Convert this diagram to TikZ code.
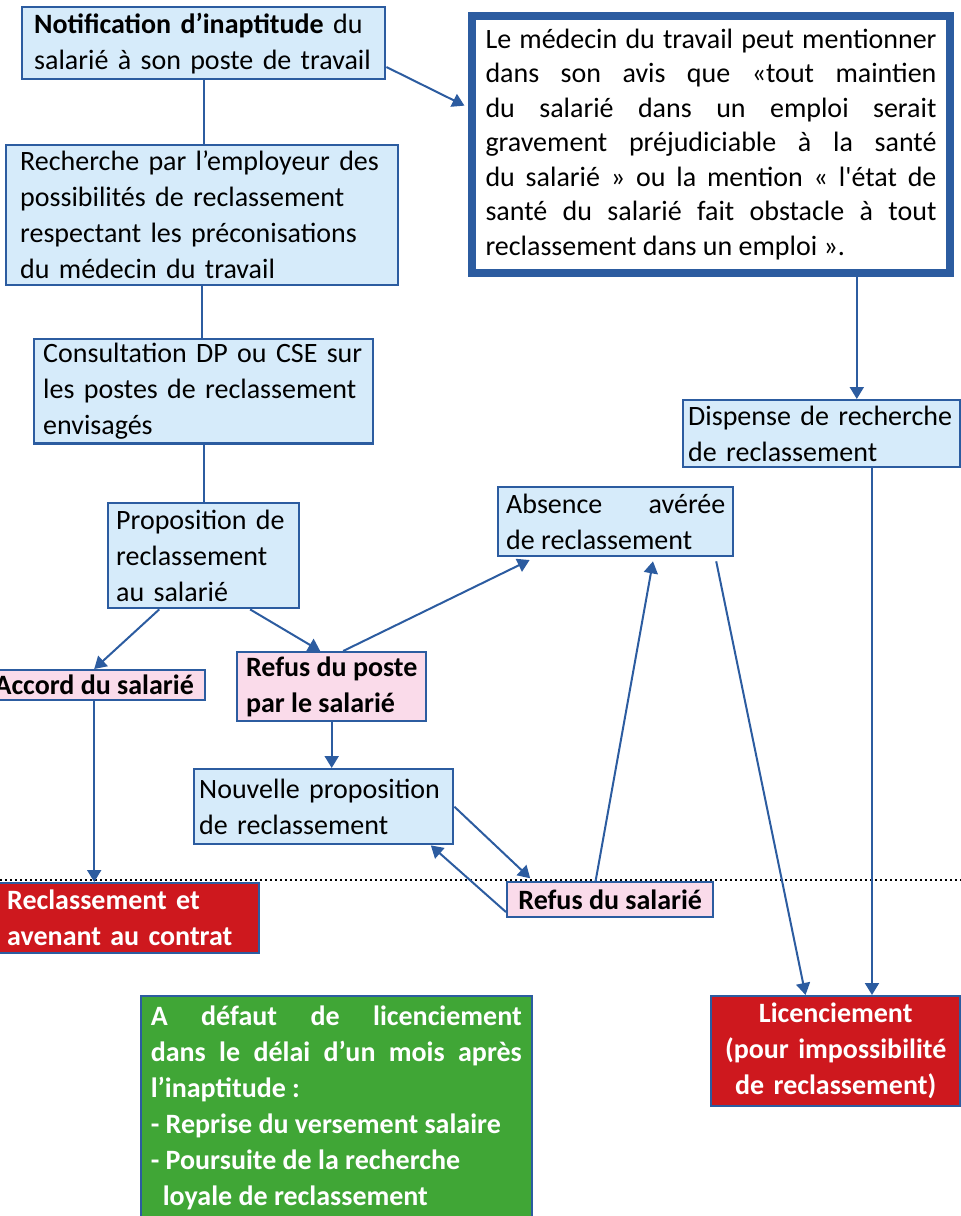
\documentclass[tikz,border=0pt]{standalone}
\usepackage{fontspec}
\setmainfont{Carlito}
\usepackage{tikz}
\usetikzlibrary{arrows.meta,calc}
\definecolor{lineblue}{RGB}{44,92,160}
\definecolor{paleblue}{RGB}{214,235,250}
\definecolor{palepink}{RGB}{250,219,234}
\definecolor{alertred}{RGB}{206,24,30}
\definecolor{okgreen}{RGB}{64,166,54}
\newcommand{\boxfont}{\fontsize{14}{18}\selectfont\hyphenpenalty=10000 \tolerance=9999 }
\newcommand{\bigboxfont}{\fontsize{14}{17.25}\selectfont\hyphenpenalty=10000 \tolerance=9999 }

\begin{document}
\begin{tikzpicture}[
    x=0.5pt, y=-0.5pt,
    box/.style={rectangle, draw=lineblue, line width=1.2pt, fill=paleblue, font=\boxfont, align=left, anchor=north west, inner ysep=2pt},
    bigbox/.style={box, fill=white, line width=4pt, align=justify, font=\bigboxfont},
    refus/.style={box, fill=palepink, font=\boxfont\bfseries, align=center},
    issue/.style={box, fill=alertred, text=white, font=\boxfont\bfseries},
    note/.style={box, fill=okgreen, text=white, line width=0.8pt, font=\boxfont\bfseries, align=justify},
    link/.style={draw=lineblue, line width=1pt},
    arrow/.style={link, -{Triangle[width=7pt,length=6pt]}},
    sep/.style={draw=black, line width=1pt, dash pattern=on 1pt off 1.5pt}
]
\useasboundingbox (0,0) rectangle (961,1216);
\clip (0,0) rectangle (961,1216);

\draw[sep] (0,880) -- (961,880);

\node[box, inner xsep=6pt, text width=169.5pt, minimum height=36pt] (notif) at (21,6) {\textbf{Notification d’inaptitude} du\\salarié à son poste de travail};
\node[box, inner xsep=7pt, text width=182pt, minimum height=70pt] (rech) at (5,144) {Recherche par l’employeur des\\possibilités de reclassement\\respectant les préconisations\\du médecin du travail};
\node[bigbox, inner xsep=6.75pt, text width=225.5pt, minimum height=128.5pt] (med) at (468,12) {Le médecin du travail peut mentionner\linebreak dans son avis que «tout maintien\linebreak du salarié dans un emploi serait\linebreak gravement préjudiciable à la santé\linebreak du salarié » ou la mention « l\textquotesingle état de\linebreak santé du salarié fait obstacle à tout\linebreak reclassement dans un emploi ».};
\node[box, inner xsep=4.5pt, text width=160.5pt, minimum height=51.5pt] (consult) at (33,338) {Consultation DP ou CSE sur\\les postes de reclassement\\envisagés};
\node[box, inner xsep=4pt, text width=87.5pt, minimum height=52.5pt] (propo) at (107,502) {Proposition de\\reclassement\\au salarié};
\node[box, inner xsep=2.5pt, text width=133.5pt, minimum height=33.5pt] (disp) at (682,399) {Dispense de recherche\\de reclassement};
\node[box, inner xsep=4pt, text width=109.5pt, minimum height=34.5pt, align=justify] (absence) at (497,486) {Absence avérée\linebreak de reclassement};
\node[refus, minimum width=111pt, minimum height=15pt, inner ysep=0.5pt] (accord) at (-18,669) {Accord du salarié};
\node[refus, inner xsep=2pt, minimum width=94.5pt, minimum height=34.5pt, align=left] (refusposte) at (236,651) {Refus du poste\\par le salarié};
\node[box, inner xsep=2.5pt, text width=124.5pt, minimum height=37.5pt] (nouvelle) at (193,768) {Nouvelle proposition\\de reclassement};
\node[refus, minimum width=103pt, minimum height=17.5pt, inner ysep=0.5pt] (refussal) at (506,881) {Refus du salarié};
\node[issue, inner xsep=12pt, text width=114pt, minimum height=35pt] (reclass) at (-18,882) {Reclassement et\\avenant au contrat};
\node[issue, inner xsep=2pt, text width=120.5pt, minimum height=55pt, align=center] (licen) at (710,995) {Licenciement\\(pour impossibilité\\de reclassement)};
\node[note, inner xsep=5pt, inner ysep=5pt, text width=185.5pt] (note) at (140,995) {A défaut de licenciement\linebreak dans le délai d’un mois après\linebreak l’inaptitude :\\- Reprise du versement salaire\\- Poursuite de la recherche\\\hspace*{6pt}loyale de reclassement};

\coordinate (medout) at ($(med.south west)!0.8!(med.south east)$);
\coordinate (dispout) at ($(disp.south west)!0.68!(disp.south east)$);

\draw[link] (notif.south) -- (notif.south |- rech.north);
\draw[link] (rech.south) -- (rech.south |- consult.north);
\draw[link] (consult.south) -- (consult.south |- propo.north);
\draw[arrow, shorten >=2pt] ($(notif.north east)!0.82!(notif.south east)$) -- ($(med.north west)!0.36!(med.south west)$);
\draw[arrow] (medout) -- (medout |- disp.north);
\draw[arrow] ($(propo.south west)!0.27!(propo.south east)$) -- (accord.north);
\draw[arrow] ($(propo.south west)!0.74!(propo.south east)$) -- ($(refusposte.north west)!0.44!(refusposte.north east)$);
\draw[arrow, shorten >=3pt] ($(refusposte.north west)!0.56!(refusposte.north east)$) -- ($(absence.south west)!0.16!(absence.south east)$);
\draw[arrow] (refusposte.south) -- (refusposte.south |- nouvelle.north);
\draw[arrow] (accord.south) -- (accord.south |- reclass.north);
\draw[arrow, shorten >=2pt] (nouvelle.east) -- ($(refussal.north west)!0.13!(refussal.north east)$);
\draw[arrow] ($(refussal.north west)!0.83!(refussal.south west)$) -- ($(nouvelle.south west)!0.91!(nouvelle.south east)$);
\draw[arrow, shorten >=2pt] ($(refussal.north west)!0.43!(refussal.north east)$) -- ($(absence.south west)!0.66!(absence.south east)$);
\draw[arrow, shorten <=2pt] ($(absence.south west)!0.92!(absence.south east)$) -- ($(licen.north west)!0.38!(licen.north east)$);
\draw[arrow] (dispout) -- (dispout |- licen.north);

\end{tikzpicture}
\end{document}
